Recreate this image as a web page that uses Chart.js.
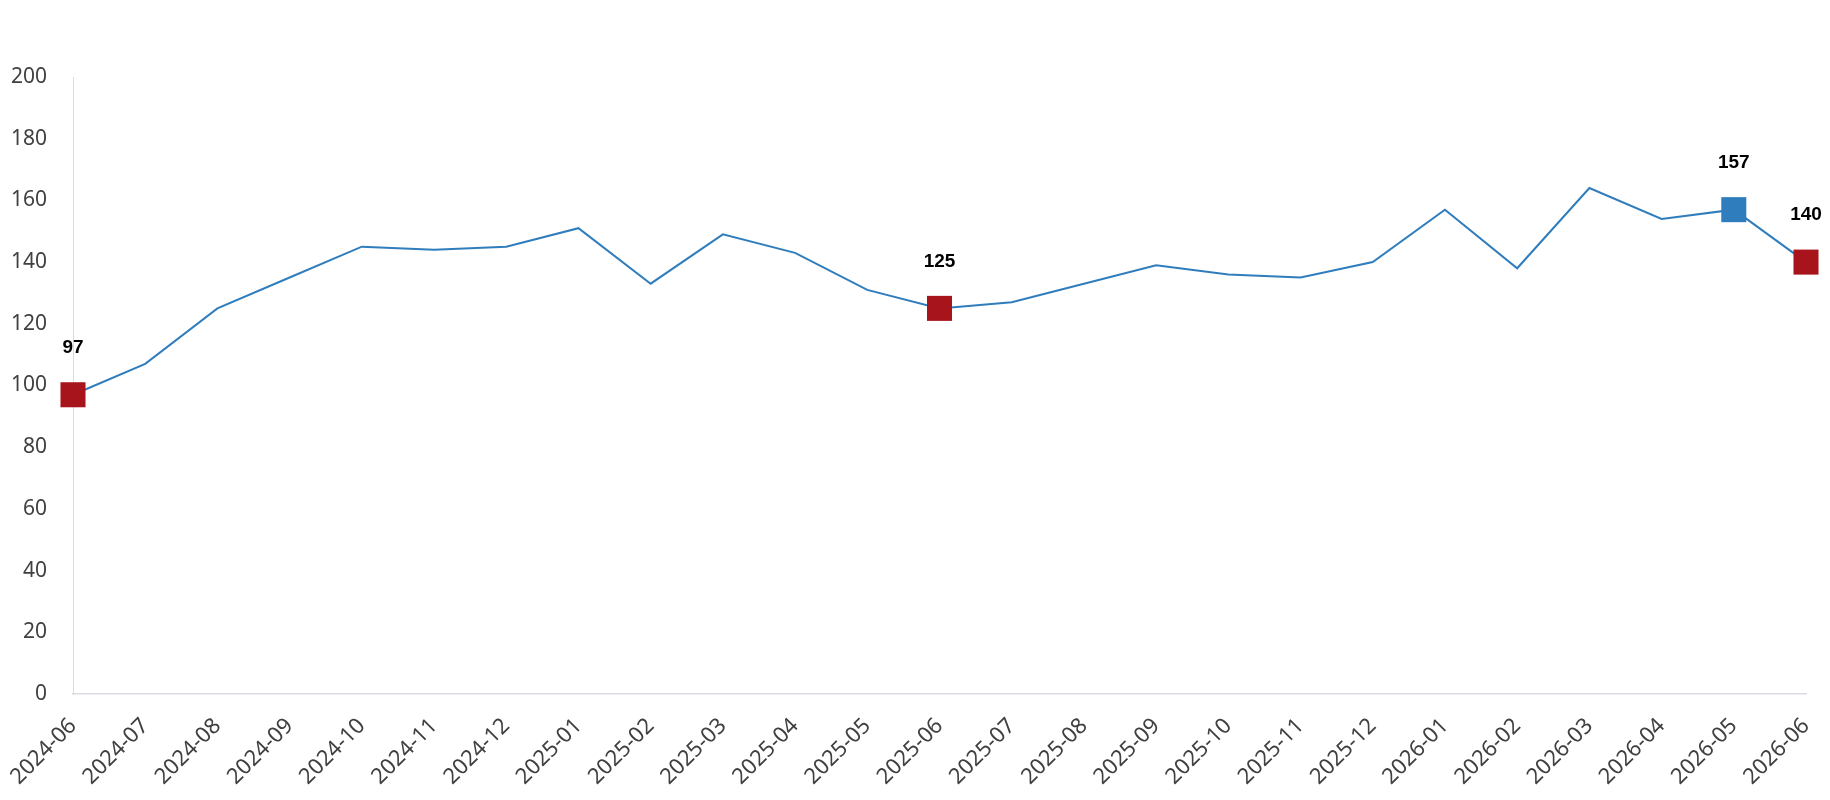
<!DOCTYPE html>
<html>
<head>
<meta charset="utf-8">
<script src="https://cdn.jsdelivr.net/npm/chart.js@4.4.1/dist/chart.umd.min.js"></script>
<style>
  html, body { margin: 0; padding: 0; background: #fff; }
  #chart { display: block; }
</style>
</head>
<body>
<canvas id="chart" width="1830" height="800"></canvas>
<script>
const months = ['2024-06', '2024-07', '2024-08', '2024-09', '2024-10', '2024-11', '2024-12',
    '2025-01', '2025-02', '2025-03', '2025-04', '2025-05', '2025-06', '2025-07', '2025-08',
    '2025-09', '2025-10', '2025-11', '2025-12', '2026-01', '2026-02', '2026-03', '2026-04',
    '2026-05', '2026-06'];
const values = [97, 107, 125, 135, 145, 144, 145, 151, 133, 149, 143, 131, 125, 127, 133,
    139, 136, 135, 140, 157, 138, 164, 154, 157, 140];
const yTicks = [0, 20, 40, 60, 80, 100, 120, 140, 160, 180, 200];

// points that get a square marker + value label
const yearPoints = [0, 12, 24];   // same month each year (red)
const lastMonthPoint = [23];      // previous month (blue)

const RED = '#a8141b';
const BLUE = '#2f7dbd';

const pointLabels = {
    id: 'pointLabels',
    afterDatasetsDraw(chart) {
        const ctx = chart.ctx;
        const meta = chart.getDatasetMeta(0);
        ctx.save();
        ctx.font = 'bold 19px "Liberation Sans", Arial, sans-serif';
        ctx.fillStyle = '#000';
        ctx.textAlign = 'center';
        ctx.textBaseline = 'middle';
        yearPoints.concat(lastMonthPoint).forEach(i => {
            const pt = meta.data[i];
            ctx.fillText(String(values[i]), pt.x, pt.y - 47);
        });
        ctx.restore();
    }
};

const marked = i => yearPoints.includes(i) || lastMonthPoint.includes(i);
const markColor = i => lastMonthPoint.includes(i) ? BLUE : RED;

new Chart(document.getElementById('chart').getContext('2d'), {
    type: 'line',
    data: {
        labels: months,
        datasets: [{
            data: values,
            borderColor: BLUE,
            borderWidth: 2,
            tension: 0,
            clip: false,
            pointStyle: 'rect',
            pointRadius: ctx => marked(ctx.dataIndex) ? 17.7 : 0,
            pointHoverRadius: ctx => marked(ctx.dataIndex) ? 17.7 : 0,
            pointBackgroundColor: ctx => markColor(ctx.dataIndex),
            pointBorderColor: ctx => markColor(ctx.dataIndex),
            pointBorderWidth: 0
        }]
    },
    options: {
        responsive: false,
        devicePixelRatio: 1,
        animation: false,
        layout: { padding: { top: 77, right: 24, bottom: 0, left: 0 } },
        plugins: {
            legend: { display: false },
            tooltip: { enabled: false }
        },
        scales: {
            x: {
                offset: false,
                grid: { display: false, drawTicks: false },
                border: { display: true, color: '#d9dde3', width: 1.5 },
                ticks: {
                    autoSkip: false,
                    minRotation: 45,
                    maxRotation: 45,
                    padding: 19,
                    color: '#404040',
                    font: { family: '"Noto Sans", "Open Sans", sans-serif', size: 22 }
                },
                afterFit: scale => {
                    scale.height = 106;
                    scale.paddingLeft = 0;
                    scale.paddingRight = 0;
                }
            },
            y: {
                min: 0,
                max: 200,
                afterBuildTicks: scale => { scale.ticks = yTicks.map(v => ({ value: v })); },
                grid: { display: false, drawTicks: false },
                border: { display: true, color: '#d9dde3', width: 1 },
                ticks: {
                    padding: 26,
                    color: '#404040',
                    font: { family: '"Noto Sans", "Open Sans", sans-serif', size: 21 }
                },
                afterFit: scale => { scale.width = 73; }
            }
        }
    },
    plugins: [pointLabels]
});
</script>
</body>
</html>
